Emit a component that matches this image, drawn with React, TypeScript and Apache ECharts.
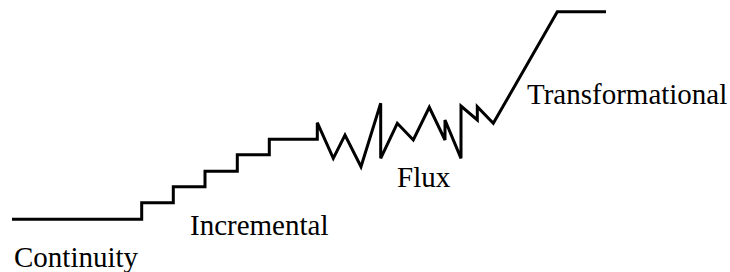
import React, { useEffect, useRef } from "react";
import * as echarts from "echarts";

// Path of change: x = progression, y = level of change
const xValues = [12, 141.7, 141.7, 173.3, 173.3, 205, 205, 237.3, 237.3, 269.3, 269.3, 317.3, 317.3, 333.3, 345, 361, 380.7, 380.7, 397.3, 413.3, 429.3, 445, 445, 461, 461, 477.3, 477.3, 493.3, 557.3, 606];
const yValues = [52.7, 52.7, 69.3, 69.3, 85.3, 85.3, 100.7, 100.7, 117.3, 117.3, 132.7, 132.7, 149.3, 113.7, 137, 105.3, 168.7, 113.7, 148.7, 132, 164.7, 132, 152, 113.7, 166, 152, 165.3, 148.7, 260.3, 260.3];

const labels = ["Continuity", "Incremental", "Flux", "Transformational"];

export default function App() {
  const ref = useRef<HTMLDivElement>(null);
  useEffect(() => {
    if (!ref.current) return;
    const chart = echarts.init(ref.current, null, { renderer: "svg" });
    const font = '29px "Liberation Serif", "Times New Roman", serif';
    const labelPos = [
      [14, 257],
      [190, 225],
      [397, 177],
      [527, 93.5],
    ];
    chart.setOption({
      animation: false,
      backgroundColor: "#ffffff",
      grid: { left: 0, top: 0, width: 730, height: 272 },
      xAxis: { type: "value", min: 0, max: 730, show: false },
      yAxis: { type: "value", min: 0, max: 272, show: false },
      series: [
        {
          type: "line",
          data: xValues.map((x, i) => [x, yValues[i]]),
          showSymbol: false,
          symbol: "none",
          lineStyle: { color: "#000000", width: 3, join: "miter", cap: "butt" },
          silent: true,
        },
      ],
      graphic: labels.map((t, i) => ({
        type: "text",
        x: labelPos[i][0],
        y: labelPos[i][1],
        style: {
          text: t,
          font,
          fill: "#000000",
          align: "left",
          verticalAlign: "middle",
        },
      })),
    });
    return () => chart.dispose();
  }, []);
  return (
    <div
      ref={ref}
      style={{ position: "fixed", left: 0, top: 0, width: 730, height: 272 }}
    />
  );
}
